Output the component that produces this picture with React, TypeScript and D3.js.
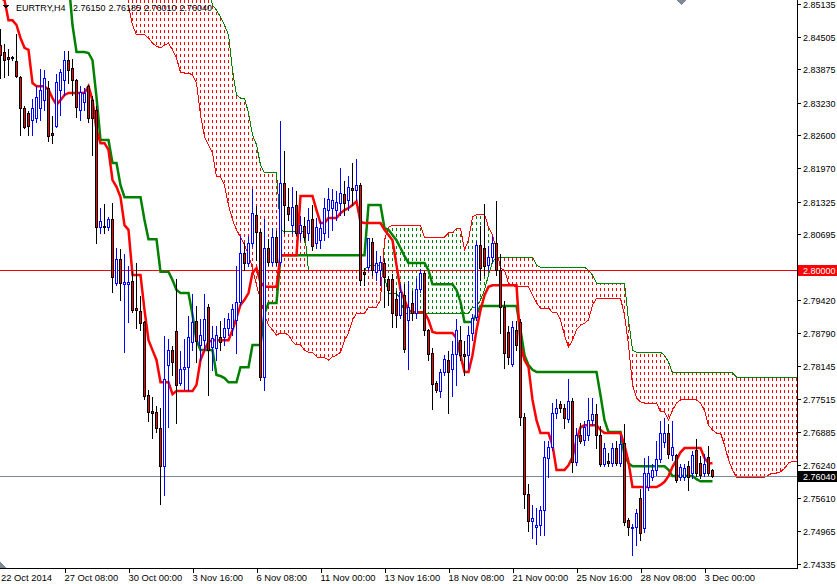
import React from "react";
import * as d3 from "d3";

// ---- Data (EURTRY H4) ----
const open = [
2.8434,2.8421,2.8411,2.8411,2.8403,2.8373,2.8313,2.8303,2.8290,2.8293,
2.8313,2.8328,2.8351,2.8265,2.8278,2.8348,2.8367,2.8405,2.8390,2.8367,
2.8309,2.8324,2.8355,2.8328,2.8309,2.8083,2.8085,2.8083,2.8099,2.7975,
2.8022,2.7973,2.7973,2.7979,2.7927,2.7921,2.7900,2.7759,2.7728,2.7727,
2.7696,2.7622,2.7817,2.7846,2.7883,2.7782,2.7809,2.7813,2.7861,2.7902,
2.7856,2.7865,2.7929,2.7852,2.7850,2.7871,2.7871,2.7888,2.7888,2.7904,
2.7939,2.8033,2.8014,2.8052,2.8107,2.8074,2.7794,2.8043,2.8016,2.8064,
2.8016,2.8168,2.8122,2.8087,2.8126,2.8072,2.8085,2.8072,2.8099,2.8052,
2.8058,2.8072,2.8116,2.8120,2.8116,2.8130,2.8147,2.8136,2.8159,2.8155,
2.8164,2.7997,2.8006,2.8054,2.7997,2.8000,2.8014,2.7983,2.7983,2.7945,
2.7914,2.7952,2.7904,2.7937,2.7917,2.7964,2.7995,2.7885,2.7840,2.7782,
2.7767,2.7804,2.7827,2.7809,2.7838,2.7865,2.7838,2.7836,2.7879,2.7910,
2.8049,2.8043,2.8010,2.8025,2.8052,2.8000,2.7929,2.7881,2.7819,2.7885,
2.7900,2.7717,2.7568,2.7516,2.7505,2.7509,2.7538,2.7638,2.7659,2.7725,
2.7742,2.7734,2.7713,2.7748,2.7630,2.7682,2.7672,2.7682,2.7711,2.7723,
2.7682,2.7626,2.7632,2.7628,2.7657,2.7628,2.7667,2.7518,2.7503,2.7505,
2.7561,2.7503,2.7582,2.7601,2.7615,2.7636,2.7669,2.7686,2.7644,2.7644,
2.7601,2.7601,2.7622,2.7609,2.7653,2.7628,2.7609,2.7640,2.76150];
const high = [
2.8467,2.8438,2.8428,2.8415,2.8457,2.8377,2.8319,2.8309,2.8332,2.8357,
2.8390,2.8388,2.8367,2.8299,2.8380,2.8390,2.8425,2.8425,2.8409,2.8371,
2.8357,2.8353,2.8359,2.8338,2.8319,2.8122,2.8130,2.8105,2.8132,2.8045,
2.8043,2.8033,2.8010,2.8000,2.8016,2.7952,2.7904,2.7771,2.7757,2.7740,
2.7736,2.7875,2.7869,2.7856,2.7985,2.7846,2.7869,2.7914,2.7956,2.7933,
2.7908,2.7956,2.7937,2.7894,2.7894,2.7904,2.7910,2.7919,2.7937,2.8010,
2.8068,2.8054,2.8068,2.8159,2.8126,2.8081,2.8101,2.8062,2.8083,2.8078,
2.8290,2.8232,2.8161,2.8162,2.8155,2.8107,2.8105,2.8122,2.8128,2.8103,
2.8097,2.8141,2.8161,2.8159,2.8155,2.8199,2.8174,2.8184,2.8209,2.8216,
2.8170,2.8006,2.8064,2.8064,2.8039,2.8029,2.8024,2.7991,2.7995,2.7962,
2.7975,2.7975,2.7981,2.7962,2.7987,2.8004,2.8000,2.7888,2.7852,2.7788,
2.7811,2.7838,2.7846,2.7865,2.7908,2.7894,2.7865,2.7894,2.7917,2.8058,
2.8087,2.8130,2.8049,2.8068,2.8136,2.8033,2.7943,2.7894,2.7904,2.7904,
2.7908,2.7726,2.7590,2.7549,2.7543,2.7547,2.7672,2.7672,2.7746,2.7753,
2.7750,2.7744,2.7792,2.7755,2.7698,2.7707,2.7711,2.7755,2.7755,2.7744,
2.7701,2.7669,2.7649,2.7669,2.7672,2.7682,2.7705,2.7524,2.7512,2.7541,
2.7580,2.7640,2.7644,2.7628,2.7672,2.7711,2.7717,2.7705,2.7711,2.7648,
2.7628,2.7628,2.7634,2.7653,2.7676,2.7644,2.7648,2.7663,2.76185];
const low = [
2.8371,2.8373,2.8377,2.8405,2.8373,2.8261,2.8274,2.8261,2.8261,2.8286,
2.8290,2.8309,2.8249,2.8245,2.8276,2.8299,2.8338,2.8361,2.8338,2.8295,
2.8290,2.8309,2.8286,2.8222,2.8052,2.8072,2.8072,2.8078,2.7958,2.7971,
2.7943,2.7842,2.7900,2.7919,2.7888,2.7885,2.7752,2.7709,2.7676,2.7688,
2.7549,2.7567,2.7698,2.7798,2.7705,2.7779,2.7771,2.7769,2.7846,2.7823,
2.7827,2.7846,2.7759,2.7808,2.7827,2.7846,2.7856,2.7875,2.7875,2.7840,
2.7933,2.8000,2.8008,2.8047,2.8020,2.7788,2.7769,2.8010,2.8010,2.8010,
2.8010,2.8072,2.8097,2.8072,2.8068,2.8058,2.8058,2.8058,2.8039,2.8043,
2.8043,2.8058,2.8064,2.8078,2.8097,2.8107,2.8107,2.8116,2.8126,2.8136,
2.7971,2.7971,2.8000,2.7991,2.7981,2.7971,2.7929,2.7933,2.7890,2.7890,
2.7908,2.7842,2.7810,2.7904,2.7908,2.7958,2.7875,2.7827,2.7732,2.7765,
2.7755,2.7798,2.7725,2.7757,2.7779,2.7827,2.7798,2.7811,2.7865,2.7904,
2.7981,2.7991,2.8000,2.8016,2.7991,2.7879,2.7811,2.7819,2.7815,2.7846,
2.7701,2.7541,2.7497,2.7484,2.7472,2.7489,2.7489,2.7601,2.7653,2.7715,
2.7726,2.7696,2.7707,2.7611,2.7624,2.7667,2.7663,2.7672,2.7701,2.7657,
2.7622,2.7622,2.7622,2.7622,2.7624,2.7622,2.7509,2.7489,2.7451,2.7470,
2.7480,2.7495,2.7576,2.7596,2.7605,2.7630,2.7659,2.7638,2.7634,2.7592,
2.7596,2.7596,2.7576,2.7599,2.7603,2.7599,2.7603,2.7605,2.76010];
const close = [
2.8415,2.8405,2.8407,2.8409,2.8375,2.8313,2.8276,2.8278,2.8313,2.8334,
2.8348,2.8371,2.8259,2.8261,2.8363,2.8382,2.8405,2.8386,2.8367,2.8315,
2.8344,2.8342,2.8293,2.8293,2.8083,2.8095,2.8083,2.8099,2.7987,2.8022,
2.7975,2.7977,2.7977,2.7923,2.7923,2.7898,2.7757,2.7727,2.7725,2.7696,
2.7622,2.7790,2.7846,2.7823,2.7779,2.7809,2.7813,2.7871,2.7900,2.7863,
2.7875,2.7906,2.7846,2.7869,2.7875,2.7861,2.7888,2.7906,2.7925,2.7939,
2.8033,2.8014,2.8052,2.8110,2.8074,2.7794,2.8043,2.8016,2.8064,2.8016,
2.8168,2.8126,2.8109,2.8122,2.8072,2.8087,2.8064,2.8097,2.8047,2.8083,
2.8081,2.8120,2.8137,2.8136,2.8132,2.8149,2.8130,2.8161,2.8155,2.8164,
2.7981,2.7993,2.8062,2.8000,2.8014,2.8016,2.7987,2.7962,2.7917,2.7914,
2.7958,2.7848,2.7929,2.7917,2.7964,2.7995,2.7885,2.7838,2.7780,2.7769,
2.7804,2.7829,2.7804,2.7838,2.7885,2.7836,2.7834,2.7875,2.7908,2.8049,
2.8004,2.8008,2.8025,2.8052,2.8000,2.7929,2.7840,2.7832,2.7890,2.7856,
2.7717,2.7568,2.7516,2.7522,2.7509,2.7538,2.7640,2.7659,2.7725,2.7734,
2.7734,2.7715,2.7748,2.7630,2.7682,2.7670,2.7698,2.7711,2.7723,2.7682,
2.7626,2.7657,2.7628,2.7657,2.7628,2.7665,2.7514,2.7505,2.7505,2.7532,
2.7493,2.7609,2.7609,2.7615,2.7636,2.7686,2.7686,2.7646,2.7659,2.7596,
2.7621,2.7619,2.7601,2.7644,2.7609,2.7605,2.7626,2.7609,2.76040];

const tenkan = [
2.8525,2.8521,2.8482,2.8482,2.8473,2.8448,2.8429,2.8425,2.8361,2.8355,
2.8355,2.8355,2.8348,2.8332,2.8319,2.8328,2.8338,2.8342,2.8342,2.8342,
2.8342,2.8342,2.8355,2.8328,2.8271,2.8245,2.8245,2.8232,2.8174,2.8161,
2.8141,2.8087,2.8078,2.7991,2.7991,2.7991,2.7923,2.7865,2.7846,2.7827,
2.7784,2.7784,2.7784,2.7761,2.7767,2.7767,2.7767,2.7767,2.7767,2.7779,
2.7827,2.7846,2.7862,2.7865,2.7865,2.7865,2.7865,2.7865,2.7885,2.7908,
2.7933,2.7943,2.7956,2.7995,2.8004,2.7977,2.7968,2.7968,2.7968,2.7968,
2.8029,2.8029,2.8029,2.8029,2.8029,2.8143,2.8143,2.8143,2.8143,2.8116,
2.8091,2.8091,2.8101,2.8101,2.8101,2.8110,2.8116,2.8120,2.8126,2.8133,
2.8093,2.8091,2.8091,2.8091,2.8091,2.8091,2.8078,2.8068,2.8058,2.8010,
2.7962,2.7943,2.7923,2.7919,2.7919,2.7919,2.7919,2.7904,2.7881,2.7879,
2.7879,2.7879,2.7879,2.7879,2.7869,2.7836,2.7804,2.7804,2.7836,2.7885,
2.7923,2.7952,2.7968,2.7971,2.7971,2.7971,2.7971,2.7971,2.7971,2.7971,
2.7856,2.7827,2.7813,2.7750,2.7711,2.7686,2.7686,2.7686,2.7663,2.7615,
2.7615,2.7615,2.7624,2.7640,2.7672,2.7697,2.7701,2.7701,2.7701,2.7701,
2.7692,2.7686,2.7686,2.7686,2.7686,2.7686,2.7663,2.7630,2.7582,2.7582,
2.7582,2.7582,2.7582,2.7582,2.7582,2.7586,2.7592,2.7603,2.7621,2.7634,
2.7649,2.7657,2.7657,2.7657,2.7657,2.7657,2.7638,2.7628,2.7628];

const kijun = [
2.8560,2.8560,2.8560,2.8560,2.8560,2.8560,2.8560,2.8560,2.8560,2.8560,
2.8560,2.8560,2.8560,2.8560,2.8560,2.8560,2.8560,2.8560,2.8473,2.8421,
2.8421,2.8421,2.8419,2.8405,2.8334,2.8251,2.8251,2.8251,2.8207,2.8207,
2.8164,2.8141,2.8141,2.8141,2.8141,2.8141,2.8097,2.8060,2.8060,2.8060,
2.7997,2.7997,2.7997,2.7981,2.7962,2.7956,2.7956,2.7956,2.7914,2.7865,
2.7846,2.7846,2.7846,2.7846,2.7798,2.7796,2.7792,2.7784,2.7784,2.7784,
2.7813,2.7813,2.7813,2.7856,2.7856,2.7856,2.7917,2.7937,2.7937,2.7937,
2.8029,2.8029,2.8029,2.8029,2.8029,2.8029,2.8029,2.8029,2.8029,2.8029,
2.8029,2.8029,2.8029,2.8029,2.8029,2.8029,2.8029,2.8029,2.8029,2.8029,
2.8029,2.8029,2.8126,2.8126,2.8126,2.8126,2.8081,2.8078,2.8068,2.8058,
2.8043,2.8027,2.8014,2.8014,2.8014,2.8014,2.8014,2.8000,2.7973,2.7973,
2.7973,2.7973,2.7973,2.7973,2.7962,2.7939,2.7900,2.7900,2.7900,2.7916,
2.7931,2.7931,2.7931,2.7931,2.7931,2.7931,2.7931,2.7931,2.7931,2.7931,
2.7885,2.7836,2.7817,2.7808,2.7804,2.7804,2.7804,2.7804,2.7804,2.7804,
2.7804,2.7804,2.7804,2.7804,2.7804,2.7804,2.7804,2.7804,2.7804,2.7804,
2.7759,2.7711,2.7688,2.7688,2.7688,2.7688,2.7644,2.7628,2.7622,2.7622,
2.7622,2.7622,2.7622,2.7622,2.7622,2.7622,2.7622,2.7615,2.7603,2.7603,
2.7603,2.7603,2.7603,2.7603,2.7597,2.7593,2.7593,2.7593,2.7593];

// Senkou spans, shifted 26 bars forward; first value belongs to bar 32
const cloudStart = 32;
const spanA = [
2.8511,2.8473,2.8454,2.8454,2.8454,2.8448,2.8438,2.8432,2.8429,2.8434,
2.8438,2.8425,2.8409,2.8382,2.8380,2.8380,2.8377,2.8361,2.8299,2.8257,
2.8242,2.8226,2.8180,2.8180,2.8164,2.8126,2.8097,2.8078,2.8064,2.8049,
2.8029,2.8004,2.7971,2.7943,2.7914,2.7894,2.7885,2.7875,2.7879,2.7879,
2.7875,2.7862,2.7856,2.7856,2.7846,2.7842,2.7842,2.7833,2.7831,2.7831,
2.7827,2.7833,2.7836,2.7842,2.7865,2.7879,2.7904,2.7917,2.7917,2.7917,
2.7929,2.7929,2.7929,2.7943,2.8058,2.8083,2.8087,2.8087,2.8087,2.8087,
2.8087,2.8087,2.8087,2.8087,2.8064,2.8064,2.8064,2.8064,2.8064,2.8064,
2.8072,2.8072,2.8081,2.8081,2.8039,2.8058,2.8103,2.8107,2.8108,2.8108,
2.8083,2.8068,2.8039,2.8004,2.8000,2.7975,2.7971,2.7968,2.7968,2.7968,
2.7968,2.7952,2.7937,2.7927,2.7927,2.7927,2.7919,2.7919,2.7904,2.7875,
2.7852,2.7865,2.7885,2.7894,2.7898,2.7904,2.7933,2.7946,2.7946,2.7946,
2.7946,2.7946,2.7946,2.7946,2.7914,2.7856,2.7779,2.7754,2.7746,2.7744,
2.7744,2.7744,2.7744,2.7727,2.7727,2.7711,2.7730,2.7744,2.7750,2.7750,
2.7750,2.7750,2.7750,2.7744,2.7730,2.7701,2.7692,2.7686,2.7686,2.7663,
2.7634,2.7615,2.7601,2.7601,2.7601,2.7601,2.7601,2.7601,2.7601,2.7601,
2.7605,2.7609,2.7609,2.7611,2.7618,2.7628,2.7632,2.7632];
const spanB = [
2.8545,2.8545,2.8545,2.8545,2.8545,2.8545,2.8545,2.8545,2.8545,2.8545,
2.8545,2.8545,2.8545,2.8545,2.8545,2.8545,2.8545,2.8545,2.8545,2.8545,
2.8545,2.8511,2.8502,2.8488,2.8473,2.8454,2.8386,2.8338,2.8332,2.8332,
2.8303,2.8261,2.8242,2.8203,2.8188,2.8188,2.8188,2.8188,2.8078,2.8074,
2.8074,2.8074,2.8074,2.8074,2.8074,2.8000,2.8000,2.8000,2.8000,2.8000,
2.8000,2.8000,2.8000,2.8000,2.8000,2.8000,2.8000,2.8000,2.8000,2.8000,
2.8010,2.8010,2.8010,2.8010,2.7987,2.7956,2.7956,2.7956,2.7943,2.7917,
2.7917,2.7917,2.7917,2.7917,2.7917,2.7917,2.7917,2.7917,2.7917,2.7917,
2.7917,2.7917,2.7917,2.7917,2.7917,2.7917,2.7929,2.7929,2.7943,2.7962,
2.7991,2.8016,2.8025,2.8025,2.8025,2.8025,2.8025,2.8025,2.8025,2.8025,
2.8025,2.8025,2.8010,2.8006,2.8006,2.8006,2.8006,2.8006,2.8006,2.8006,
2.8006,2.8006,2.8006,2.8006,2.8006,2.8000,2.7991,2.7975,2.7975,2.7975,
2.7975,2.7975,2.7975,2.7975,2.7975,2.7904,2.7846,2.7842,2.7842,2.7842,
2.7842,2.7842,2.7842,2.7842,2.7836,2.7823,2.7802,2.7802,2.7802,2.7802,
2.7802,2.7802,2.7802,2.7802,2.7802,2.7802,2.7802,2.7802,2.7802,2.7802,
2.7802,2.7802,2.7794,2.7794,2.7794,2.7794,2.7794,2.7794,2.7794,2.7794,
2.7794,2.7794,2.7794,2.7794,2.7794,2.7794,2.7794,2.7794];

const priceTicks = [2.85135,2.84505,2.83875,2.8323,2.826,2.8197,2.81325,2.80695,2.80065,2.7942,2.7879,2.78145,2.77515,2.76885,2.7624,2.7561,2.74965,2.74335];
const priceTickLabels = ["2.85135","2.84505","2.83875","2.83230","2.82600","2.81970","2.81325","2.80695","2.80065","2.79420","2.78790","2.78145","2.77515","2.76885","2.76240","2.75610","2.74965","2.74335"];
const timeTickBars = [0,16,32,48,64,80,96,112,128,144,160,176];
const timeTickLabels = ["22 Oct 2014","27 Oct 08:00","30 Oct 00:00","3 Nov 16:00","6 Nov 08:00","11 Nov 00:00","13 Nov 16:00","18 Nov 08:00","21 Nov 00:00","25 Nov 16:00","28 Nov 08:00","3 Dec 00:00"];
const symbolTitle = "EURTRY,H4";
const ohlcTitle = ["2.76150","2.76185","2.76010","2.76040"];
const levelPrice = 2.80000;
const bidPrice = 2.76040;

const W = 837, H = 584, PR = 797, PB = 568;
const FONT = "'Liberation Sans', Arial, sans-serif";

export default function App() {
  const x = d3.scaleLinear().domain([0, 1]).range([0.5, 4.5]);
  const y = d3.scaleLinear().domain([2.74335, 2.85135]).range([564, 4]);
  const sy = (v: number) => Math.round(y(v)) + 0.5;

  const lineMain = d3.line<number>().x((_, i) => x(i)).y((d) => y(d));
  const lineCloud = d3.line<number>().x((_, k) => x(k + cloudStart)).y((d) => y(d));

  const cloudCols = spanA.map((a, k) => {
    const b = spanB[k];
    const j = k + cloudStart;
    const ya = Math.round(y(a));
    const yb = Math.round(y(b));
    const top = Math.min(ya, yb);
    const bot = Math.max(ya, yb);
    const color = b > a ? "#ff0000" : "#008000";
    const off = ((top % 6) + 6) % 6;
    return (
      <line key={"c" + j} x1={x(j)} x2={x(j)} y1={top} y2={bot} stroke={color}
        strokeWidth={1} strokeDasharray="3 3" strokeDashoffset={off} />
    );
  });

  const candles = open.map((o, i) => {
    const c = close[i];
    const bull = c > o;
    const cx = x(i);
    const yt = sy(Math.max(o, c));
    const yb = sy(Math.min(o, c));
    const wick = bull ? "#0000ff" : "#000000";
    return (
      <g key={"k" + i}>
        <line x1={cx} x2={cx} y1={sy(high[i])} y2={sy(low[i])} stroke={wick} strokeWidth={1} />
        <rect x={cx - 1} y={yt} width={2} height={Math.max(0, yb - yt)}
          fill={bull ? "#ffffff" : "#ff0000"} stroke={bull ? "#0000ff" : "#000000"} strokeWidth={1} />
      </g>
    );
  });

  const yLevel = sy(levelPrice);
  const yBid = sy(bidPrice);

  return (
    <svg width={W} height={H} style={{ position: "fixed", left: 0, top: 0, background: "#fff" }}
      shapeRendering="crispEdges" fontFamily={FONT}>
      <defs>
        <clipPath id="plot"><rect x={0} y={0} width={PR} height={PB} /></clipPath>
      </defs>
      <rect x={0} y={0} width={W} height={H} fill="#ffffff" />
      <g clipPath="url(#plot)">
        {cloudCols}
        <path d={lineCloud(spanA) || ""} fill="none" stroke="#ff0000" strokeWidth={1} />
        <path d={lineCloud(spanB) || ""} fill="none" stroke="#008000" strokeWidth={1} />
        <line x1={0} x2={PR} y1={yLevel} y2={yLevel} stroke="#ff0000" strokeWidth={1} />
        <line x1={0} x2={PR} y1={yBid} y2={yBid} stroke="#778899" strokeWidth={1} />
        <path d={lineMain(kijun) || ""} fill="none" stroke="#008000" strokeWidth={2.5} shapeRendering="auto" />
        <path d={lineMain(tenkan) || ""} fill="none" stroke="#ff0000" strokeWidth={2.5} shapeRendering="auto" />
        {candles}
      </g>
      {/* frame */}
      <line x1={PR + 0.5} x2={PR + 0.5} y1={0} y2={PB + 1} stroke="#000" strokeWidth={1} />
      <line x1={0} x2={PR + 1} y1={PB + 0.5} y2={PB + 0.5} stroke="#000" strokeWidth={1} />
      {/* price axis */}
      {priceTicks.map((p, k) => {
        const yy = sy(p);
        const hidden = Math.abs(yy - yLevel) < 9 || Math.abs(yy - yBid) < 9;
        return (
          <g key={"pt" + k}>
            <line x1={PR} x2={PR + 4} y1={yy} y2={yy} stroke="#000" />
            {!hidden && <text x={803} y={yy + 3.5} fontSize={9} fill="#000">{priceTickLabels[k]}</text>}
          </g>
        );
      })}
      <rect x={798} y={yLevel - 5.5} width={39} height={11} fill="#ff0000" />
      <text x={803} y={yLevel + 3.5} fontSize={9} fill="#ffffff">{levelPrice.toFixed(5)}</text>
      <rect x={798} y={yBid - 5.5} width={39} height={11} fill="#000000" />
      <text x={803} y={yBid + 3.5} fontSize={9} fill="#ffffff">{bidPrice.toFixed(5)}</text>
      {/* time axis */}
      {timeTickBars.map((b, k) => {
        const xx = Math.round(x(b)) + 0.5;
        return (
          <g key={"tt" + k}>
            {k > 0 && <line x1={xx} x2={xx} y1={PB} y2={PB + 5} stroke="#000" />}
            <text x={k === 0 ? 1 : xx - 1} y={581} fontSize={9.4} fill="#000">{timeTickLabels[k]}</text>
          </g>
        );
      })}
      {/* markers */}
      <polygon points="677,0 686,0 681.5,5" fill="#7f8a99" />
      <polygon points="0,562 6,568 0,568" fill="#7f8a99" />
      {/* title */}
      <polygon points="3,5 9,5 6,9" fill="#000" />
      <text x={16} y={11} fontSize={9} fill="#000">{symbolTitle}</text>
      {ohlcTitle.map((t, k) => (
        <text key={"ot" + k} x={73 + k * 35.5} y={11} fontSize={9} fill="#000">{t}</text>
      ))}
    </svg>
  );
}
